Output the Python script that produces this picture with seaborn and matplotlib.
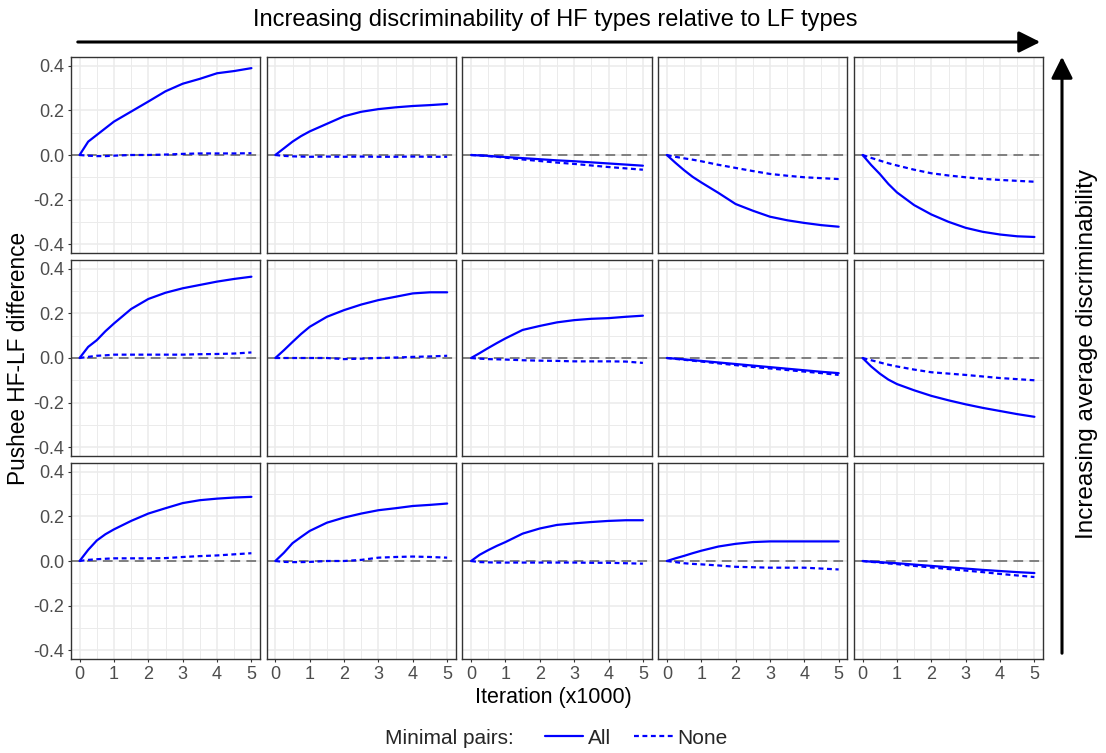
import numpy as np
import pandas as pd
import matplotlib
matplotlib.use("Agg")
import matplotlib.pyplot as plt
from matplotlib.lines import Line2D
import seaborn as sns

# ---------------- data ----------------
iterations = [0, 0.25, 0.5, 0.75, 1, 1.5, 2, 2.5, 3, 3.5, 4, 4.5, 5]   # x1000
pair_labels = ["All", "None"]

# top row (highest average discriminability), columns left -> right
all_row1 = [
    [0, 0.06, 0.09, 0.12, 0.15, 0.195, 0.24, 0.286, 0.32, 0.342, 0.367, 0.377, 0.39],
    [0, 0.03, 0.06, 0.085, 0.106, 0.14, 0.174, 0.194, 0.206, 0.214, 0.22, 0.224, 0.229],
    [0, -0.002, -0.004, -0.007, -0.009, -0.014, -0.019, -0.024, -0.028, -0.033, -0.038, -0.043, -0.048],
    [0, -0.035, -0.068, -0.098, -0.123, -0.17, -0.22, -0.25, -0.277, -0.293, -0.305, -0.315, -0.322],
    [0, -0.045, -0.085, -0.13, -0.168, -0.225, -0.267, -0.3, -0.327, -0.345, -0.357, -0.365, -0.368],
]
none_row1 = [
    [0, -0.003, -0.005, -0.005, -0.003, 0, 0, 0.002, 0.005, 0.007, 0.007, 0.007, 0.008],
    [0, -0.004, -0.006, -0.007, -0.008, -0.007, -0.008, -0.007, -0.008, -0.008, -0.007, -0.008, -0.008],
    [0, -0.002, -0.005, -0.008, -0.012, -0.02, -0.027, -0.034, -0.04, -0.047, -0.054, -0.06, -0.066],
    [0, -0.008, -0.015, -0.021, -0.028, -0.044, -0.058, -0.072, -0.085, -0.093, -0.1, -0.104, -0.108],
    [0, -0.013, -0.025, -0.037, -0.047, -0.066, -0.082, -0.092, -0.1, -0.107, -0.112, -0.116, -0.12],
]
all_row2 = [
    [0, 0.05, 0.08, 0.12, 0.155, 0.22, 0.265, 0.293, 0.313, 0.328, 0.343, 0.355, 0.365],
    [0, 0.035, 0.072, 0.108, 0.14, 0.185, 0.215, 0.24, 0.26, 0.275, 0.29, 0.295, 0.295],
    [0, 0.022, 0.045, 0.067, 0.088, 0.126, 0.144, 0.16, 0.17, 0.176, 0.179, 0.185, 0.19],
    [0, -0.003, -0.006, -0.01, -0.013, -0.02, -0.027, -0.034, -0.041, -0.048, -0.055, -0.062, -0.068],
    [0, -0.038, -0.07, -0.097, -0.117, -0.145, -0.17, -0.19, -0.208, -0.224, -0.238, -0.252, -0.264],
]
none_row2 = [
    [0, 0.005, 0.01, 0.012, 0.015, 0.015, 0.015, 0.015, 0.015, 0.017, 0.018, 0.02, 0.025],
    [0, 0, 0, 0, 0, 0, -0.005, -0.003, 0, 0.002, 0.005, 0.007, 0.01],
    [0, -0.003, -0.005, -0.006, -0.007, -0.01, -0.012, -0.013, -0.015, -0.015, -0.015, -0.016, -0.022],
    [0, -0.004, -0.008, -0.012, -0.016, -0.024, -0.032, -0.04, -0.047, -0.054, -0.061, -0.068, -0.076],
    [0, -0.01, -0.02, -0.03, -0.038, -0.052, -0.064, -0.07, -0.076, -0.083, -0.09, -0.095, -0.1],
]
all_row3 = [
    [0, 0.05, 0.092, 0.12, 0.142, 0.18, 0.213, 0.237, 0.26, 0.273, 0.28, 0.285, 0.288],
    [0, 0.037, 0.08, 0.108, 0.135, 0.172, 0.195, 0.213, 0.228, 0.237, 0.247, 0.252, 0.258],
    [0, 0.028, 0.049, 0.068, 0.085, 0.123, 0.146, 0.162, 0.169, 0.175, 0.18, 0.183, 0.183],
    [0, 0.012, 0.023, 0.035, 0.046, 0.065, 0.077, 0.085, 0.088, 0.088, 0.088, 0.088, 0.088],
    [0, -0.003, -0.005, -0.008, -0.01, -0.016, -0.022, -0.028, -0.034, -0.04, -0.045, -0.05, -0.054],
]
none_row3 = [
    [0, 0.005, 0.008, 0.01, 0.012, 0.012, 0.012, 0.013, 0.018, 0.022, 0.025, 0.03, 0.035],
    [0, -0.004, -0.005, -0.005, -0.004, 0, 0, 0.005, 0.015, 0.018, 0.02, 0.018, 0.015],
    [0, -0.005, -0.006, -0.007, -0.007, -0.007, -0.007, -0.007, -0.007, -0.008, -0.008, -0.01, -0.012],
    [0, -0.005, -0.01, -0.013, -0.015, -0.02, -0.026, -0.028, -0.03, -0.03, -0.03, -0.034, -0.038],
    [0, -0.004, -0.007, -0.011, -0.014, -0.022, -0.029, -0.036, -0.043, -0.05, -0.058, -0.065, -0.072],
]

x_ticks = [0, 1, 2, 3, 4, 5]
y_ticks = [-0.4, -0.2, 0.0, 0.2, 0.4]
y_tick_labels = ["-0.4", "-0.2", "0.0", "0.2", "0.4"]

title_top = "Increasing discriminability of HF types relative to LF types"
title_right = "Increasing average discriminability"
x_label = "Iteration (x1000)"
y_label = "Pushee HF-LF difference"
legend_title = "Minimal pairs:"

# ---------------- build long table ----------------
rows_all = [all_row1, all_row2, all_row3]
rows_none = [none_row1, none_row2, none_row3]
records = []
for r in range(3):
    for c in range(5):
        for lab, src in zip(pair_labels, [rows_all[r][c], rows_none[r][c]]):
            for xv, yv in zip(iterations, src):
                records.append(dict(row=r, col=c, pairs=lab, iteration=xv, diff=yv))
df = pd.DataFrame(records)

# ---------------- style ----------------
sns.set_theme(style="white")
plt.rcParams["font.family"] = ["Liberation Sans", "DejaVu Sans"]

W, H = 1106, 753
fig, axes = plt.subplots(3, 5, figsize=(W / 100, H / 100), dpi=100,
                         sharex=True, sharey=True)
fig.subplots_adjust(left=71 / W, right=1043 / W, top=1 - 57 / H, bottom=1 - 659 / H,
                    wspace=6.75 / 189, hspace=7 / 196)

border = "#333333"
tick_col = "#4D4D4D"
grid_col = "#EBEBEB"
dash_map = {"All": "", "None": (2.2, 1.6)}

for r in range(3):
    for c in range(5):
        ax = axes[r, c]
        sub = df[(df.row == r) & (df.col == c)]
        ax.set_xlim(-0.25, 5.25)
        ax.set_ylim(-0.44, 0.44)
        ax.set_xticks(x_ticks)
        ax.set_yticks(y_ticks)
        ax.set_xticks(np.arange(0, 5.01, 0.5), minor=True)
        ax.set_yticks(np.arange(-0.4, 0.401, 0.1), minor=True)
        ax.grid(True, which="major", color=grid_col, lw=1.1)
        ax.grid(True, which="minor", color=grid_col, lw=0.7)
        ax.set_axisbelow(True)
        ax.axhline(0, color="#7F7F7F", lw=1.4, dashes=(5, 3.2), zorder=2)
        sns.lineplot(data=sub, x="iteration", y="diff", style="pairs",
                     style_order=pair_labels, dashes=dash_map, color="blue",
                     lw=1.6, errorbar=None, legend=False, ax=ax, zorder=3)
        ax.set_xlabel("")
        ax.set_ylabel("")
        for sp in ax.spines.values():
            sp.set_color(border)
            sp.set_linewidth(1.0)
            sp.set_visible(True)
        ax.tick_params(which="major", length=2.5, width=0.8, color=border,
                       labelsize=13, labelcolor=tick_col, pad=2.5,
                       left=(c == 0), bottom=(r == 2))
        ax.tick_params(which="minor", length=0)
        if c == 0:
            ax.set_yticklabels(y_tick_labels)

# axis labels
fig.text(553 / W, 1 - 697 / H, x_label, ha="center", va="center", fontsize=15.5, color="black")
fig.text(19 / W, 1 - 358 / H, y_label, ha="center", va="center", rotation=90,
         fontsize=16.3, color="black")

# top annotation and arrow
fig.text(555 / W, 1 - 20 / H, title_top, ha="center", va="center", fontsize=17, color="black")
fig.add_artist(matplotlib.patches.FancyArrowPatch(
    (75 / W, 1 - 42 / H), (1043 / W, 1 - 42 / H), transform=fig.transFigure,
    arrowstyle="-|>,head_length=1.0,head_width=0.5", color="black", lw=2.2,
    mutation_scale=13))
# right annotation and arrow
fig.text(1087 / W, 1 - 354 / H, title_right, ha="center", va="center", rotation=90,
         fontsize=17.5, color="black")
fig.add_artist(matplotlib.patches.FancyArrowPatch(
    (1062 / W, 1 - 656 / H), (1062 / W, 1 - 54 / H), transform=fig.transFigure,
    arrowstyle="-|>,head_length=1.0,head_width=0.5", color="black", lw=2.2,
    mutation_scale=13))

# legend
fig.text(385 / W, 1 - 738 / H, legend_title, ha="left", va="center", fontsize=15)
handles = [Line2D([0], [0], color="blue", lw=1.6),
           Line2D([0], [0], color="blue", lw=1.6, dashes=dash_map["None"])]
fig.legend(handles, pair_labels, loc="center left", bbox_to_anchor=(545 / W, 1 - 738 / H),
           ncol=2, frameon=False, fontsize=15, handlelength=1.83, handletextpad=0.25,
           columnspacing=1.1, borderaxespad=0, borderpad=0)

fig.savefig("out.png", dpi=100)
